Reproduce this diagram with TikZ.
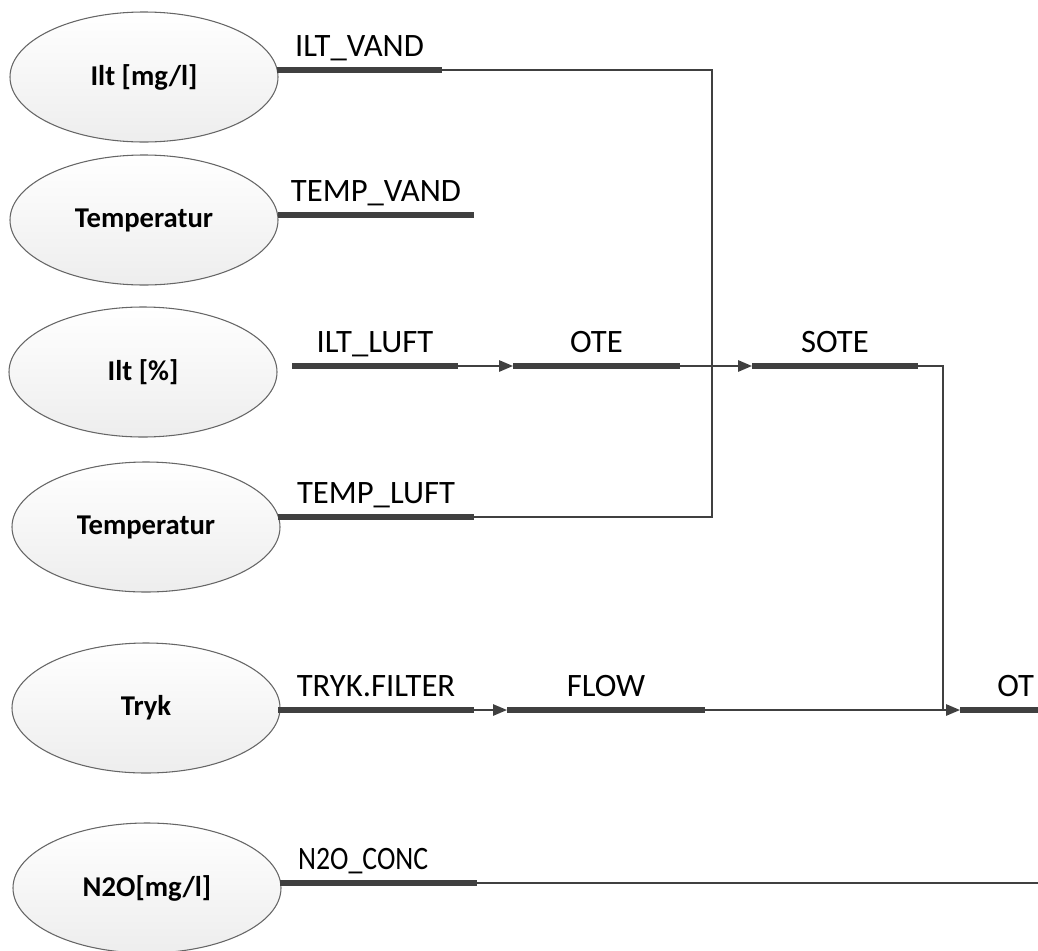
\documentclass[tikz,border=0pt]{standalone}
\usepackage{fontspec}
\setmainfont{Carlito}
\usetikzlibrary{shapes.geometric,arrows.meta,calc}
\definecolor{ln}{HTML}{404040}
\definecolor{edg}{HTML}{666666}
\begin{document}
\begin{tikzpicture}[x=0.75pt,y=-0.75pt,
  sensor/.style={ellipse,draw=edg,line width=0.8pt,top color=white,bottom color=black!7,
    minimum width=201pt,minimum height=97.5pt,inner sep=0pt,
    font=\fontsize{21.5}{25}\selectfont\bfseries,text=black},
  seg/.style={draw=ln,line width=3.8pt},
  wire/.style={draw=ln,line width=1.4pt},
  arr/.style={wire,-{Triangle[length=10.5pt,width=8.5pt]}},
  lbl/.style={anchor=base,font=\fontsize{24.5}{29}\selectfont,text=black,inner sep=0pt}]
\useasboundingbox (0,0) rectangle (1038,950);
\begin{scope}
\clip (0,0) rectangle (1038,950);
% sensors
\node[sensor] (s1) at (144,77) {Ilt [mg/l]};
\node[sensor] (s2) at (144,220) {Temperatur};
\node[sensor] (s3) at (143,372) {Ilt [\%]};
\node[sensor] (s4) at (146,527) {Temperatur};
\node[sensor] (s5) at (146,708) {Tryk};
\node[sensor] (s6) at (147,888) {N2O[mg/l]};
% coordinates
\coordinate (a1) at (277,70);  \coordinate (b1) at (442,70);
\coordinate (j1) at (712,70);  \coordinate (j4) at (712,517);
\coordinate (a2) at (278,215); \coordinate (b2) at (474,215);
\coordinate (a3) at (292,366); \coordinate (b3) at (458,366);
\coordinate (o1) at (513,366); \coordinate (o2) at (680,366);
\coordinate (so1) at (752,366); \coordinate (so2) at (918,366);
\coordinate (k1) at (943,366); \coordinate (k2) at (943,710);
\coordinate (ot1) at (960,710); \coordinate (ot2) at (1045,710);
\coordinate (a4) at (278,517); \coordinate (b4) at (474,517);
\coordinate (a5) at (278,710); \coordinate (b5) at (474,710);
\coordinate (f1) at (507,710); \coordinate (f2) at (705,710);
\coordinate (a6) at (280,883); \coordinate (b6) at (477,883);
\coordinate (e6) at (1045,883);
% thin wires
\draw[wire] (b1) -- (j1) -- (j4) -- (b4);
\draw[arr] (b3) -- (o1);
\draw[arr] (o2) -- (so1);
\draw[wire] (so2) -- (k1) -- (k2);
\draw[wire] (f2) -- (k2);
\draw[arr] (k2) -- (ot1);
\draw[arr] (b5) -- (f1);
\draw[wire] (b6) -- (e6);
% thick segments
\draw[seg] (a1) -- (b1);
\draw[seg] (a2) -- (b2);
\draw[seg] (a3) -- (b3);
\draw[seg] (o1) -- (o2);
\draw[seg] (so1) -- (so2);
\draw[seg] (ot1) -- (ot2);
\draw[seg] (a4) -- (b4);
\draw[seg] (a5) -- (b5);
\draw[seg] (f1) -- (f2);
\draw[seg] (a6) -- (b6);
% labels
\node[lbl] (l1) at ($(a1)!0.5!(b1)+(0,-14)$) {ILT\_VAND};
\node[lbl] (l2) at ($(a2)!0.5!(b2)+(0,-14)$) {TEMP\_VAND};
\node[lbl] (l3) at ($(a3)!0.5!(b3)+(0,-14)$) {ILT\_LUFT};
\node[lbl] (l3b) at ($(o1)!0.5!(o2)+(0,-14)$) {OTE};
\node[lbl] (l3c) at ($(so1)!0.5!(so2)+(0,-14)$) {SOTE};
\node[lbl,anchor=base west] (l3d) at ($(ot1)+(37,-14)$) {OT};
\node[lbl] (l4) at ($(a4)!0.5!(b4)+(0,-14)$) {TEMP\_LUFT};
\node[lbl] (l5) at ($(a5)!0.5!(b5)+(0,-14)$) {TRYK.FILTER};
\node[lbl] (l5b) at ($(f1)!0.5!(f2)+(0,-14)$) {FLOW};
\node[lbl,xscale=0.85,anchor=base west] (l6) at ($(a6)+(18,-14)$) {N2O\_CONC};
\end{scope}
\end{tikzpicture}
\end{document}
